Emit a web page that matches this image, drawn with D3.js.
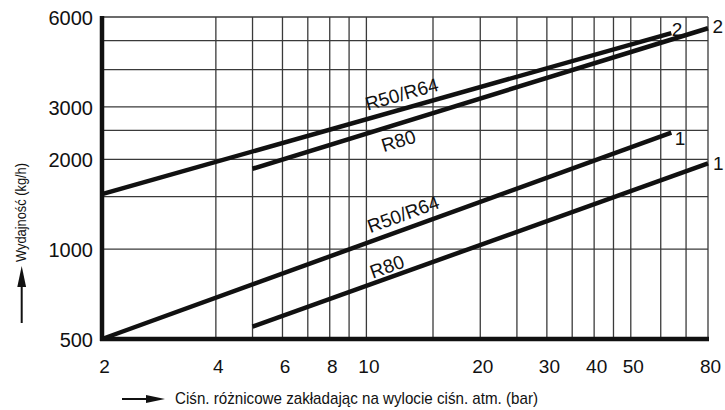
<!DOCTYPE html>
<html>
<head>
<meta charset="utf-8">
<script src="https://cdn.jsdelivr.net/npm/d3@7"></script>
<style>
  html, body { margin: 0; padding: 0; background: #fff; }
  svg { display: block; font-family: "Liberation Sans", Arial, Helvetica, sans-serif; }
</style>
</head>
<body>
<svg id="chart" width="725" height="410"></svg>
<script>
// Pressure axis (bar), log scale
const xTickValues = [2, 4, 6, 8, 10, 20, 30, 40, 50, 80];
const xGridValues = [4, 5, 6, 7, 8, 9, 10, 15, 20, 25, 30, 35, 40, 45, 50, 60, 70, 80];
// Flow axis (kg/h), log scale
const yTickValues = [500, 1000, 2000, 3000, 6000];
const yGridValues = [1000, 1500, 2000, 2500, 3000, 4000, 5000, 6000];

// Valve curves: name, curve number, pressure range and flow at each end
const curveNames = ["R50/R64", "R80", "R50/R64", "R80"];
const curveNumbers = ["2", "2", "1", "1"];
const curvePressure = [[2, 64], [5, 80], [2, 64], [5, 80]];
const curveFlow = [[1530, 5300], [1860, 5500], [500, 2460], [550, 1940]];

// Where each name sits along its curve (pressure) and its offset from the line
const namePlacement = [
  { at: 12.7, dy: -8 },
  { at: 11.8, dy: 23 },
  { at: 12.9, dy: -8 },
  { at: 11.6, dy: -4.5 }
];
const numberPlacement = [
  { dx: 0.5, dy: 3 },
  { dx: 4.5, dy: 4.7 },
  { dx: 3.5, dy: 12.5 },
  { dx: 5, dy: 6.7 }
];

const margin = { left: 102, right: 17, top: 17, bottom: 71 };
const W = 725, H = 410;

const svg = d3.select("#chart");

const x = d3.scaleLog()
  .domain([2, 80])
  .range([margin.left, W - margin.right]);
const y = d3.scaleLog()
  .domain([500, 6000])
  .range([H - margin.bottom, margin.top]);

const gridColor = "#3a3a3a";

// Grid lines
const grid = svg.append("g");
grid.selectAll("line.v")
  .data(xGridValues)
  .join("line")
  .attr("class", "v")
  .attr("x1", d => x(d)).attr("x2", d => x(d))
  .attr("y1", y(6000)).attr("y2", y(500))
  .attr("stroke", gridColor)
  .attr("stroke-width", 1.3);
grid.selectAll("line.h")
  .data(yGridValues)
  .join("line")
  .attr("class", "h")
  .attr("y1", d => y(d)).attr("y2", d => y(d))
  .attr("x1", x(2)).attr("x2", x(80))
  .attr("stroke", gridColor)
  .attr("stroke-width", 1.3);

// Curves
const line = d3.line()
  .x(d => x(d[0]))
  .y(d => y(d[1]));

const curves = curveNames.map((name, i) => ({
  name,
  number: curveNumbers[i],
  pts: curvePressure[i].map((p, j) => [p, curveFlow[i][j]]),
  place: namePlacement[i],
  numPlace: numberPlacement[i]
}));

svg.append("g")
  .selectAll("path")
  .data(curves)
  .join("path")
  .attr("d", d => line(d.pts))
  .attr("fill", "none")
  .attr("stroke", "#111")
  .attr("stroke-width", 4.5)
  .attr("stroke-linecap", "butt");

// Flow at a given pressure along a straight log-log curve
function flowAt(c, p) {
  const [p0, p1] = c.pts.map(d => d[0]);
  const [f0, f1] = c.pts.map(d => d[1]);
  const t = Math.log(p / p0) / Math.log(p1 / p0);
  return Math.exp(Math.log(f0) + t * Math.log(f1 / f0));
}

// Curve names written along the lines
svg.append("g")
  .selectAll("text")
  .data(curves)
  .join("text")
  .attr("transform", d => {
    const [a, b] = d.pts;
    const ang = Math.atan2(y(b[1]) - y(a[1]), x(b[0]) - x(a[0])) * 180 / Math.PI;
    const px = x(d.place.at), py = y(flowAt(d, d.place.at));
    return `translate(${px},${py}) rotate(${ang})`;
  })
  .attr("dy", d => d.place.dy)
  .attr("text-anchor", "middle")
  .attr("font-size", 19)
  .attr("fill", "#111")
  .text(d => d.name);

// Curve numbers at the line ends
svg.append("g")
  .selectAll("text")
  .data(curves)
  .join("text")
  .attr("x", d => x(d.pts[1][0]) + d.numPlace.dx)
  .attr("y", d => y(d.pts[1][1]) + d.numPlace.dy)
  .attr("font-size", 19)
  .attr("fill", "#111")
  .text(d => d.number);

// Thick frame on the left and bottom
svg.append("line")
  .attr("x1", x(2)).attr("x2", x(2))
  .attr("y1", y(6000) - 1).attr("y2", y(500) + 2)
  .attr("stroke", "#111").attr("stroke-width", 4.5);
svg.append("line")
  .attr("x1", x(2) - 2).attr("x2", x(80) + 1)
  .attr("y1", y(500)).attr("y2", y(500))
  .attr("stroke", "#111").attr("stroke-width", 4.5);

// Axis tick labels
const xAxis = d3.axisBottom(x)
  .tickValues(xTickValues)
  .tickFormat(d3.format("d"))
  .tickSize(0)
  .tickPadding(0);
const gx = svg.append("g")
  .attr("transform", `translate(2,${y(500) + 34})`)
  .call(xAxis);
gx.select(".domain").remove();
gx.selectAll("text")
  .attr("font-size", 19)
  .attr("font-family", "Liberation Sans, Arial, sans-serif")
  .attr("fill", "#111")
  .attr("dy", 0);

const yAxis = d3.axisLeft(y)
  .tickValues(yTickValues)
  .tickFormat(d3.format("d"))
  .tickSize(0)
  .tickPadding(0);
const gy = svg.append("g")
  .attr("transform", `translate(${x(2) - 9},1)`)
  .call(yAxis);
gy.select(".domain").remove();
gy.selectAll("text")
  .attr("font-size", 20)
  .attr("font-family", "Liberation Sans, Arial, sans-serif")
  .attr("fill", "#111");

// Axis titles with direction arrows
svg.append("text")
  .attr("x", 175)
  .attr("y", 404)
  .attr("font-size", 17)
  .attr("fill", "#111")
  .attr("textLength", 363)
  .attr("lengthAdjust", "spacingAndGlyphs")
  .text("Ciśn. różnicowe zakładając na wylocie ciśn. atm. (bar)");

svg.append("line")
  .attr("x1", 122).attr("x2", 150)
  .attr("y1", 399).attr("y2", 399)
  .attr("stroke", "#111").attr("stroke-width", 2);
svg.append("path")
  .attr("d", "M165,399 L146,395 L146,403 Z")
  .attr("fill", "#111");

svg.append("text")
  .attr("transform", "translate(26,262) rotate(-90)")
  .attr("font-size", 15.5)
  .attr("fill", "#111")
  .attr("textLength", 99)
  .attr("lengthAdjust", "spacingAndGlyphs")
  .text("Wydajność (kg/h)");

svg.append("line")
  .attr("x1", 21.7).attr("x2", 21.7)
  .attr("y1", 323).attr("y2", 282)
  .attr("stroke", "#111").attr("stroke-width", 2);
svg.append("path")
  .attr("d", "M21.7,266 L17.3,287 L26.1,287 Z")
  .attr("fill", "#111");
</script>
</body>
</html>
